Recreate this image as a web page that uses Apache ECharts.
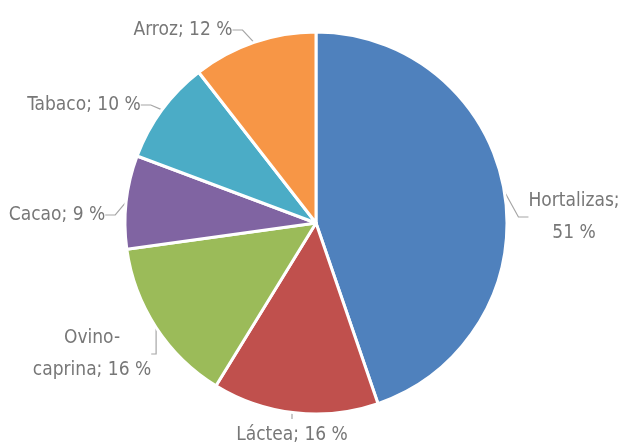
<!DOCTYPE html>
<html>
<head>
<meta charset="utf-8">
<script src="https://cdn.jsdelivr.net/npm/echarts@6/dist/echarts.min.js"></script>
<style>
  html, body { margin: 0; padding: 0; background: #fff; }
  #chart { width: 623px; height: 447px; }
</style>
</head>
<body>
<div id="chart"></div>
<script>
// datos del gráfico
const categories = ['Hortalizas', 'Láctea', 'Ovino-caprina', 'Cacao', 'Tabaco', 'Arroz']
const values = [51, 16, 16, 9, 10, 12]
const colors = ['#4F81BD', '#C0504D', '#9BBB59', '#8064A2', '#4BACC6', '#F79646']

// centro de cada etiqueta (como en el original)
const labelPos = [[574, 217], [292, 435], [92, 354], [57, 215], [84, 105], [183, 30]]

const chart = echarts.init(document.getElementById('chart'))
chart.setOption({
  animation: false,
  color: colors,
  series: [
    {
      type: 'pie',
      center: [316, 223],
      radius: 191,
      startAngle: 90,
      clockwise: true,
      data: categories.map((name, i) => ({ name, value: values[i] })),
      itemStyle: { borderColor: '#fff', borderWidth: 3 },
      label: {
        show: true,
        position: 'outside',
        overflow: 'none',
        color: '#777777',
        fontSize: 19,
        lineHeight: 32,
        fontFamily: '"Liberation Sans Narrow", "DejaVu Sans Condensed", sans-serif',
        formatter: function (p) {
          if (p.name === 'Hortalizas') return p.name + ';\n' + p.value + ' %'
          if (p.name === 'Ovino-caprina') return 'Ovino-\ncaprina; ' + p.value + ' %'
          return p.name + '; ' + p.value + ' %'
        }
      },
      labelLine: {
        show: true,
        length: 8,
        length2: 10,
        lineStyle: { color: '#A6A6A6', width: 1.2 }
      },
      labelLayout: function (params) {
        const p = labelPos[params.dataIndex]
        return { x: p[0], y: p[1], align: 'center', verticalAlign: 'middle' }
      }
    }
  ]
})
</script>
</body>
</html>
